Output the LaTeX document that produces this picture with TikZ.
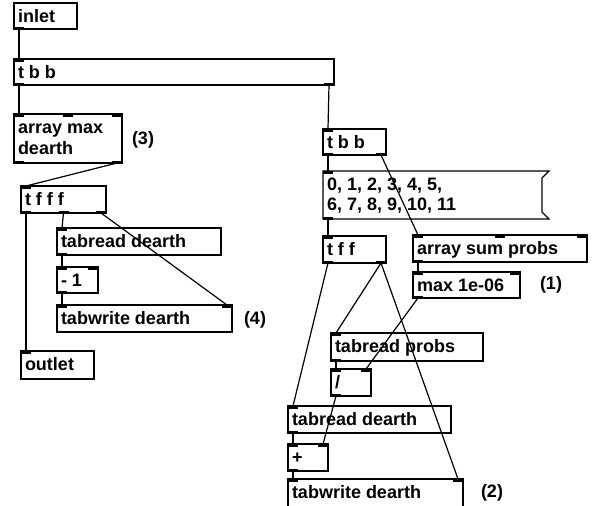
\documentclass[tikz,border=0pt]{standalone}
\usepackage{fontspec}
\newfontfamily\pdfont{Liberation Sans}
\usetikzlibrary{calc}
\tikzset{
  pdbox/.style={draw, line width=1.1pt, rectangle, inner sep=0pt, outer sep=0pt, anchor=north west},
  pdtxt/.style={inner sep=0pt, outer sep=0pt, anchor=base west, font=\pdfont\bfseries\fontsize{18}{20}\selectfont},
  conn/.style={line width=1.2pt},
}
\newcommand\pdports[6]{%
  \ifnum#5>0
    \pgfmathtruncatemacro\pdlast{#5-1}%
    \foreach \i in {0,...,\pdlast}{%
      \pgfmathsetmacro\px{#1+\i*(#3-#1-10)/max(#5-1,1)}%
      \fill (\px,#2-0.5) rectangle ++(10,3);
    }%
  \fi
  \ifnum#6>0
    \pgfmathtruncatemacro\pdlast{#6-1}%
    \foreach \i in {0,...,\pdlast}{%
      \pgfmathsetmacro\px{#1+\i*(#3-#1-10)/max(#6-1,1)}%
      \fill (\px,#4+0.5) rectangle ++(10,-3);
    }%
  \fi
}
\newcommand\pdobj[8]{%
  \node[pdbox, minimum width={(#4-#2)*1pt}, minimum height={(#5-#3)*1pt}] (#1) at (#2,#3) {};
  \node[pdtxt] (#1-t) at ({#2+4},{#3+19.5}) {#8};
  \pdports{#2}{#3}{#4}{#5}{#6}{#7}
}
\begin{document}
\begin{tikzpicture}[x=1pt,y=-1pt]
\path[use as bounding box] (0,0) rectangle (592,506);
\clip (0,0) rectangle (592,506);

% left column
\pdobj{inlet}{14}{3}{77}{29}{0}{1}{inlet}
\pdobj{tbba}{14}{59}{334}{85}{1}{2}{t b b}
\pdobj{amax}{14}{114}{122}{163}{3}{2}{array max}
\node[pdtxt] (amax-t2) at (18,154.5) {dearth};
\pdobj{tfff}{21}{186}{106}{213}{1}{3}{t f f f}
\pdobj{trda}{57}{228}{221}{255}{1}{1}{tabread dearth}
\pdobj{minus}{57}{267}{98}{293}{2}{1}{- 1}
\pdobj{twda}{57}{305}{232}{332}{2}{0}{tabwrite dearth}
\pdobj{outlet}{21}{351}{94}{379}{1}{0}{outlet}

% right column
\pdobj{tbbb}{323}{129}{386}{155}{1}{2}{t b b}
\node[pdbox, draw=none, minimum width=226pt, minimum height=48pt] (msg) at (323,171) {};
\draw[line width=1.1pt] (msg.north west) -- (msg.north east) -- ++(-7,7)
  -- ($(msg.south east)+(-7,-7)$) -- (msg.south east) -- (msg.south west) -- cycle;
\pdports{323}{171}{549}{219}{1}{1}
\node[pdtxt] (msg-t) at (327,190) {0, 1, 2, 3, 4, 5,};
\node[pdtxt] (msg-t2) at (327,210.5) {6, 7, 8, 9, 10, 11};
\pdobj{tff}{323}{236}{386}{263}{1}{2}{t f f}
\pdobj{asum}{413}{235}{587}{262}{3}{1}{array sum probs}
\pdobj{maxo}{413}{272}{520}{298}{2}{1}{max 1e-06}
\pdobj{trp}{331}{333}{483}{361}{1}{1}{tabread probs}
\pdobj{div}{331}{369}{371}{396}{2}{1}{/}
\pdobj{trdb}{288}{406}{451}{433}{1}{1}{tabread dearth}
\pdobj{plus}{288}{444}{328}{471}{2}{1}{+}
\pdobj{twdb}{288}{479}{463}{507}{2}{0}{tabwrite dearth}

% comments
\node[pdtxt] (c3) at (132,144) {(3)};
\node[pdtxt] (c4) at (244,324) {(4)};
\node[pdtxt] (c1) at (540,289) {(1)};
\node[pdtxt] (c2) at (481,497) {(2)};

% connections
\draw[conn] ($(inlet.south west)+(5,0)$) -- ($(tbba.north west)+(5,0)$);
\draw[conn] ($(tbba.south west)+(5,0)$) -- ($(amax.north west)+(5,0)$);
\draw[conn] ($(tbba.south east)+(-5,0)$) -- ($(tbbb.north west)+(5,0)$);
\draw[conn] ($(amax.south east)+(-5,0)$) -- ($(tfff.north west)+(5,0)$);
\draw[conn] ($(tfff.south west)+(5,0)$) -- ($(outlet.north west)+(5,0)$);
\draw[conn] ($(tfff.south west)+(42.5,0)$) -- ($(trda.north west)+(5,0)$);
\draw[conn] ($(tfff.south east)+(-5,0)$) -- ($(twda.north east)+(-5,0)$);
\draw[conn] ($(trda.south west)+(5,0)$) -- ($(minus.north west)+(5,0)$);
\draw[conn] ($(minus.south west)+(5,0)$) -- ($(twda.north west)+(5,0)$);

\draw[conn] ($(tbbb.south west)+(5,0)$) -- ($(msg.north west)+(5,0)$);
\draw[conn] ($(tbbb.south east)+(-5,0)$) -- ($(asum.north west)+(5,0)$);
\draw[conn] ($(msg.south west)+(5,0)$) -- ($(tff.north west)+(5,0)$);
\draw[conn] ($(tff.south west)+(5,0)$) -- ($(trdb.north west)+(5,0)$);
\draw[conn] ($(tff.south east)+(-5,0)$) -- ($(trp.north west)+(5,0)$);
\draw[conn] ($(tff.south east)+(-5,0)$) -- ($(twdb.north east)+(-5,0)$);
\draw[conn] ($(asum.south west)+(5,0)$) -- ($(maxo.north west)+(5,0)$);
\draw[conn] ($(maxo.south west)+(5,0)$) -- ($(div.north east)+(-5,0)$);
\draw[conn] ($(trp.south west)+(5,0)$) -- ($(div.north west)+(5,0)$);
\draw[conn] ($(div.south west)+(5,0)$) -- ($(plus.north east)+(-5,0)$);
\draw[conn] ($(trdb.south west)+(5,0)$) -- ($(plus.north west)+(5,0)$);
\draw[conn] ($(plus.south west)+(5,0)$) -- ($(twdb.north west)+(5,0)$);
\end{tikzpicture}
\end{document}
